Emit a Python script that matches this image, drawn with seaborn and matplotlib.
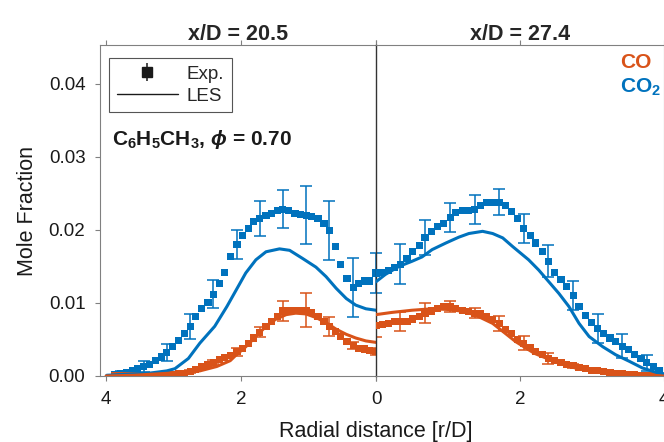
import matplotlib
matplotlib.use("Agg")
import matplotlib.pyplot as plt
import seaborn as sns

# ---- x/D = 20.5 (left panel, r/D runs 4 -> 0) ----
r_exp_205 = [0.00, 0.09, 0.17, 0.26, 0.34, 0.43, 0.52, 0.60, 0.69, 0.77,
             0.86, 0.95, 1.03, 1.12, 1.20, 1.29, 1.38, 1.46, 1.55, 1.63,
             1.72, 1.81, 1.89, 1.98, 2.06, 2.15, 2.24, 2.32, 2.41, 2.49,
             2.58, 2.67, 2.75, 2.84, 2.92, 3.01, 3.10, 3.18, 3.27, 3.35,
             3.44, 3.53, 3.61, 3.70, 3.78, 3.87]
co2_exp_205 = [0.0141, 0.0130, 0.0130, 0.0126, 0.0121, 0.0133, 0.0152, 0.0177, 0.0199, 0.0209,
               0.0216, 0.0218, 0.0220, 0.0221, 0.0223, 0.0226, 0.0228, 0.0226, 0.0222, 0.0220,
               0.0216, 0.0211, 0.0202, 0.0192, 0.0180, 0.0163, 0.0142, 0.0126, 0.0112, 0.0100,
               0.0093, 0.0081, 0.0068, 0.0058, 0.0049, 0.0041, 0.0032, 0.0026, 0.0021, 0.0016,
               0.0013, 0.0010, 0.0007, 0.0005, 0.0004, 0.0002]
co_exp_205 = [0.0034, 0.0035, 0.0037, 0.0038, 0.0042, 0.0047, 0.0054, 0.0061, 0.0068, 0.0074,
              0.0081, 0.0087, 0.0090, 0.0090, 0.0090, 0.0090, 0.0089, 0.0082, 0.0074, 0.0068,
              0.0060, 0.0052, 0.0045, 0.0038, 0.0033, 0.0028, 0.0025, 0.0022, 0.0019, 0.0016,
              0.0013, 0.0009, 0.0006, 0.0004, 0.0003, 0.0002, 0.0002, 0.0001, 0.0001, 0.0000,
              0.0000, 0.0000, 0.0000, 0.0000, 0.0000, 0.0000]
err_idx = [0, 4, 8, 12, 16, 20, 24, 28, 32, 36, 40, 44]
co2_err_205 = [0.0027, 0.0040, 0.0040, 0.0040, 0.0026, 0.0024, 0.0020, 0.0019, 0.0017, 0.0012, 0.0007, 0.0003]
co_err_205 = [0.0005, 0.0005, 0.0013, 0.0023, 0.0014, 0.0007, 0.0006, 0.0003, 0.0002, 0.0001, 0.0001, 0.0001]

r_les_co2_205 = [0.00, 0.15, 0.30, 0.44, 0.59, 0.74, 0.89, 1.09, 1.28, 1.43, 1.63,
                 1.78, 1.93, 2.07, 2.21, 2.39, 2.61, 2.78, 2.98, 3.10, 3.35, 3.99]
co2_les_205 = [0.0090, 0.0092, 0.0097, 0.0106, 0.0120, 0.0136, 0.0149, 0.0161, 0.0172, 0.0174, 0.0170,
               0.0159, 0.0141, 0.0118, 0.0095, 0.0068, 0.0045, 0.0024, 0.0010, 0.0007, 0.0004, 0.0001]
r_les_co_205 = [0.00, 0.15, 0.30, 0.44, 0.59, 0.74, 0.89, 1.04, 1.19, 1.33, 1.48,
                1.63, 1.78, 1.93, 2.07, 2.16, 2.36, 2.61, 2.85, 3.59, 4.00]
co_les_205 = [0.0046, 0.0048, 0.0052, 0.0057, 0.0064, 0.0073, 0.0080, 0.0085, 0.0086, 0.0084, 0.0078,
              0.0068, 0.0054, 0.0040, 0.0029, 0.0021, 0.0013, 0.0007, 0.0005, 0.0001, 0.0000]

# ---- x/D = 27.4 (right panel, r/D runs 0 -> 4) ----
r_exp_274 = [0.00, 0.09, 0.17, 0.26, 0.34, 0.43, 0.51, 0.60, 0.68, 0.77,
             0.86, 0.94, 1.03, 1.11, 1.20, 1.28, 1.37, 1.45, 1.54, 1.62,
             1.71, 1.80, 1.88, 1.97, 2.05, 2.14, 2.22, 2.31, 2.39, 2.48,
             2.57, 2.65, 2.74, 2.82, 2.91, 2.99, 3.08, 3.16, 3.25, 3.33,
             3.42, 3.51, 3.59, 3.68, 3.76, 3.85, 3.93]
co2_exp_274 = [0.0141, 0.0142, 0.0144, 0.0148, 0.0153, 0.0161, 0.0170, 0.0179, 0.0189, 0.0198,
               0.0204, 0.0209, 0.0217, 0.0224, 0.0226, 0.0226, 0.0228, 0.0233, 0.0237, 0.0238,
               0.0238, 0.0233, 0.0225, 0.0215, 0.0202, 0.0192, 0.0182, 0.0170, 0.0157, 0.0142,
               0.0132, 0.0122, 0.0110, 0.0095, 0.0083, 0.0073, 0.0065, 0.0058, 0.0052, 0.0047,
               0.0041, 0.0036, 0.0030, 0.0024, 0.0018, 0.0013, 0.0007]
co_exp_274 = [0.0069, 0.0070, 0.0072, 0.0074, 0.0074, 0.0074, 0.0078, 0.0081, 0.0086, 0.0089,
              0.0093, 0.0095, 0.0095, 0.0093, 0.0090, 0.0088, 0.0086, 0.0085, 0.0081, 0.0077,
              0.0072, 0.0064, 0.0058, 0.0050, 0.0045, 0.0039, 0.0033, 0.0029, 0.0024, 0.0021,
              0.0018, 0.0016, 0.0014, 0.0012, 0.0010, 0.0008, 0.0007, 0.0006, 0.0005, 0.0004,
              0.0003, 0.0002, 0.0002, 0.0001, 0.0001, 0.0000, 0.0000]
co2_err_274 = [0.0027, 0.0027, 0.0024, 0.0020, 0.0020, 0.0018, 0.0020, 0.0022, 0.0020, 0.0020, 0.0016, 0.0011]
co_err_274 = [0.0016, 0.0013, 0.0014, 0.0008, 0.0007, 0.0010, 0.0010, 0.0007, 0.0003, 0.0002, 0.0001, 0.0001]

r_les_co2_274 = [0.00, 0.13, 0.32, 0.50, 0.64, 0.78, 0.97, 1.15, 1.29, 1.48, 1.62, 1.76, 1.90,
                 2.12, 2.26, 2.40, 2.54, 2.68, 2.82, 2.96, 3.15, 3.33, 3.52, 3.70, 3.89, 4.00]
co2_les_274 = [0.0129, 0.0139, 0.0150, 0.0157, 0.0163, 0.0173, 0.0182, 0.0190, 0.0195, 0.0198, 0.0195, 0.0189, 0.0177,
               0.0159, 0.0145, 0.0129, 0.0113, 0.0095, 0.0072, 0.0054, 0.0040, 0.0029, 0.0020, 0.0011, 0.0005, 0.0003]
r_les_co_274 = [0.00, 0.22, 0.50, 0.78, 1.01, 1.25, 1.43, 1.62, 1.80, 1.94, 2.20, 2.50, 2.80, 3.10, 3.40, 3.70, 4.00]
co_les_274 = [0.0084, 0.0087, 0.0090, 0.0092, 0.0091, 0.0088, 0.0081, 0.0072, 0.0058, 0.0047,
              0.0031, 0.0019, 0.0010, 0.0005, 0.0002, 0.0001, 0.0000]

CO_COLOR = '#D95319'
CO2_COLOR = '#0072BD'
SPINE = '#808080'

sns.set_theme(style="white")
plt.rcParams['font.family'] = ['Liberation Sans', 'DejaVu Sans']
plt.rcParams['mathtext.fontset'] = 'custom'
plt.rcParams['mathtext.rm'] = 'Liberation Sans'
plt.rcParams['mathtext.it'] = 'Liberation Sans:italic'
plt.rcParams['mathtext.bf'] = 'Liberation Sans:bold'
plt.rcParams['mathtext.bfit'] = 'Liberation Sans:italic:bold'


def draw_panel(ax, r_exp, co_exp, co2_exp, co_err, co2_err, r_co, co_les, r_co2, co2_les):
    for vals, err, color in [(co2_exp, co2_err, CO2_COLOR), (co_exp, co_err, CO_COLOR)]:
        ax.errorbar([r_exp[i] for i in err_idx], [vals[i] for i in err_idx], yerr=err,
                    fmt='none', ecolor=color, elinewidth=1.1, capsize=4.5, capthick=1.1, zorder=2)
        sns.scatterplot(x=r_exp, y=vals, ax=ax, marker='s', s=26, color=color,
                        edgecolor='none', linewidth=0, zorder=3)
    sns.lineplot(x=r_co2, y=co2_les, ax=ax, color=CO2_COLOR, lw=2.2, zorder=4)
    sns.lineplot(x=r_co, y=co_les, ax=ax, color=CO_COLOR, lw=2.2, zorder=4)
    ax.set_ylim(0, 0.0453)
    ax.set_yticks([0, 0.01, 0.02, 0.03, 0.04])
    ax.set_xlabel('')
    ax.set_ylabel('')
    for s in ax.spines.values():
        s.set_color(SPINE)
        s.set_linewidth(0.8)
    ax.tick_params(axis='both', direction='out', length=3.5, width=0.8, color=SPINE,
                   labelsize=13.5, pad=7, labelcolor='#1a1a1a')
    ax.tick_params(axis='x', top=True, bottom=True)


fig = plt.figure(figsize=(6.64, 4.42), dpi=100)
axL = fig.add_axes([100 / 664, 66 / 442, 276 / 664, 331 / 442])
axR = fig.add_axes([376 / 664, 66 / 442, 288 / 664, 331 / 442])

draw_panel(axL, r_exp_205, co_exp_205, co2_exp_205, co_err_205, co2_err_205,
           r_les_co_205, co_les_205, r_les_co2_205, co2_les_205)
draw_panel(axR, r_exp_274, co_exp_274, co2_exp_274, co_err_274, co2_err_274,
           r_les_co_274, co_les_274, r_les_co2_274, co2_les_274)

axL.set_xlim(4.09, 0)
axR.set_xlim(0, 4.0)
axL.set_xticks([4, 2, 0])
axL.set_xticklabels(['4', '2', '0'])
axR.set_xticks([0, 2, 4])
axR.set_xticklabels(['', '2', '4'])
axL.set_yticklabels(['0.00', '0.01', '0.02', '0.03', '0.04'])
axL.tick_params(axis='y', left=True, right=False)
axR.tick_params(axis='y', left=False, right=False, labelleft=False)
axL.spines['right'].set_visible(False)
axR.spines['left'].set_color('#333333')
axR.spines['left'].set_linewidth(1.0)

axL.set_title('x/D = 20.5', fontsize=15.5, fontweight='bold', pad=3.5)
axR.set_title('x/D = 27.4', fontsize=15.5, fontweight='bold', pad=3.5)
axL.set_ylabel('Mole Fraction', fontsize=15.5, labelpad=8, color='#1a1a1a')
fig.text(376 / 664, 1 - 431 / 442, 'Radial distance [r/D]', ha='center', va='center',
         fontsize=15.5, color='#1a1a1a')

# legend
h_exp = axL.errorbar([], [], yerr=[], fmt='s', color='k', ms=6.5, capsize=4, elinewidth=1.1, capthick=1.6)
h_les, = axL.plot([], [], color='k', lw=1.0)
leg = axL.legend(handles=[h_exp, h_les], labels=['Exp.', 'LES'], loc='upper left',
                 bbox_to_anchor=(9 / 276, 1 - 13 / 331), borderaxespad=0, fontsize=13.5,
                 handlelength=3.3, handletextpad=0.45, borderpad=0.4, labelspacing=0.27,
                 frameon=True, fancybox=False, edgecolor='#555555', framealpha=1)
leg.get_frame().set_linewidth(0.8)

axL.text(12 / 276, (376 - 145) / 331, r'C$_\mathbf{6}$H$_\mathbf{5}$CH$_\mathbf{3}$, $\mathbfit{\phi}$ = 0.70',
         transform=axL.transAxes, ha='left', va='baseline', fontsize=15, fontweight='bold',
         color='#1a1a1a')

axR.text(0.847, (376 - 68) / 331, 'CO', transform=axR.transAxes, ha='left', va='baseline',
         fontsize=15, fontweight='bold', color=CO_COLOR)
axR.text(0.847, (376 - 93) / 331, r'CO$_\mathbf{2}$', transform=axR.transAxes, ha='left', va='baseline',
         fontsize=15, fontweight='bold', color=CO2_COLOR)

fig.savefig('out.png', dpi=100)
